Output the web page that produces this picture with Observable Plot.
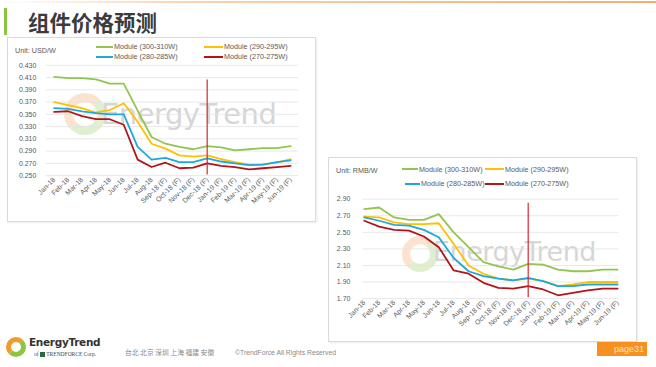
<!DOCTYPE html>
<html><head><meta charset="utf-8">
<script src="https://cdn.jsdelivr.net/npm/d3@7"></script>
<script src="https://cdn.jsdelivr.net/npm/@observablehq/plot@0.6"></script>
<style>
body{margin:0;width:656px;height:367px;background:#fff;position:relative;overflow:hidden;font-family:"Liberation Sans",Arial,sans-serif;}
.abs{position:absolute;}
.topline{left:0;top:1px;width:656px;height:2px;background:linear-gradient(90deg,rgba(247,178,122,0) 0%,rgba(247,178,122,0.6) 30%,#f6ad72 100%);}
.gbar{left:4px;top:8px;width:3px;height:27px;background:#8cc63f;}
.title{left:28px;top:7px;font-family:"Noto Sans CJK SC",sans-serif;font-weight:700;font-size:21.5px;color:#3b3b3b;line-height:30px;white-space:nowrap;}
.box{border:1px solid #dadada;box-shadow:1px 1px 2px rgba(0,0,0,0.08);background:#fff;box-sizing:border-box;}
.lg{font-size:7.2px;color:#595959;white-space:nowrap;line-height:9px;}
.sw{height:2px;}
.wm{font-family:"DejaVu Sans",sans-serif;color:#d6d6d6;white-space:nowrap;letter-spacing:-0.5px;}
.ring{border-radius:50%;box-sizing:border-box;}
.foot{font-size:6.8px;color:#8a8a8a;white-space:nowrap;line-height:9px;}
</style></head><body>
<div class="abs topline"></div>
<div class="abs gbar"></div>
<div class="abs title">组件价格预测</div>
<div id="c1" class="abs box" style="left:7px;top:37px;width:309px;height:185px;"></div>
<div id="c2" class="abs box" style="left:328px;top:157px;width:309px;height:185px;"></div>
<div id="overlay"></div>
<script>
// ---- data ----
const months = ["Jan-18","Feb-18","Mar-18","Apr-18","May-18","Jun-18","Jul-18","Aug-18","Sep-18 (F)","Oct-18 (F)","Nov-18 (F)","Dec-18 (F)","Jan-19 (F)","Feb-19 (F)","Mar-19 (F)","Apr-19 (F)","May-19 (F)","Jun-19 (F)"];
const seriesNames = ["Module (300-310W)","Module (290-295W)","Module (280-285W)","Module (270-275W)"];
const seriesColors = ["#92c550","#ffc000","#1fa8dc","#b3131b"];

const usd300 = [0.411,0.409,0.409,0.407,0.400,0.400,0.356,0.313,0.302,0.297,0.293,0.298,0.296,0.291,0.293,0.295,0.295,0.298];
const usd290 = [0.370,0.365,0.360,0.353,0.357,0.368,0.338,0.302,0.294,0.283,0.281,0.283,0.277,0.272,0.268,0.268,0.271,0.277];
const usd280 = [0.360,0.359,0.355,0.352,0.350,0.350,0.297,0.276,0.279,0.272,0.272,0.278,0.273,0.270,0.267,0.268,0.272,0.275];
const usd270 = [0.354,0.355,0.347,0.342,0.342,0.333,0.276,0.264,0.271,0.262,0.263,0.270,0.266,0.264,0.260,0.262,0.264,0.266];

const rmb300 = [2.78,2.80,2.68,2.65,2.65,2.72,2.50,2.32,2.14,2.09,2.05,2.12,2.11,2.05,2.03,2.03,2.05,2.05];
const rmb290 = [2.69,2.68,2.62,2.60,2.60,2.61,2.36,2.10,2.00,1.94,1.92,1.94,1.91,1.85,1.87,1.90,1.90,1.90];
const rmb280 = [2.68,2.64,2.59,2.58,2.53,2.44,2.19,2.03,1.97,1.94,1.92,1.95,1.91,1.85,1.85,1.87,1.87,1.87];
const rmb270 = [2.64,2.57,2.53,2.52,2.45,2.32,2.04,2.00,1.89,1.83,1.82,1.85,1.81,1.74,1.77,1.80,1.82,1.82];

const usdTicks = [0.25,0.27,0.29,0.31,0.33,0.35,0.37,0.39,0.41,0.43];
const rmbTicks = [1.70,1.90,2.10,2.30,2.50,2.70,2.90];
const markerMonth = "Dec-18 (F)";
const usdMarker = [0.251,0.406];
const rmbMarker = [1.71,2.85];
const usdUnit = "Unit: USD/W";
const rmbUnit = "Unit: RMB/W";
const watermark = "EnergyTrend";
const footerCities = "台北 北京 深圳 上海 福建 安徽";
const footerCopy = "©TrendForce All Rights Reserved";
const pageLabel = "page31";

// ---- helpers ----
function rows(arrs){
  const out=[];
  arrs.forEach((a,si)=>a.forEach((v,i)=>out.push({month:months[i],value:v,series:seriesNames[si]})));
  return out;
}
function chart(opts){
  const data = rows(opts.arrs);
  return Plot.plot({
    width:309,height:185,
    marginLeft:opts.ml,marginRight:opts.mr,marginTop:opts.mt,marginBottom:opts.mb,
    style:{background:"transparent",fontFamily:"Liberation Sans, Arial, sans-serif",fontSize:"7px",color:"#595959"},
    x:{type:"point",domain:months,padding:0},
    y:{domain:opts.domain},
    color:{domain:seriesNames,range:seriesColors},
    marks:[
      Plot.gridY(opts.ticks,{stroke:"#e2e2e2",strokeOpacity:1,strokeWidth:0.8}),
      Plot.axisY(opts.ticks,{tickFormat:d3.format(opts.fmt),tickSize:0,tickPadding:opts.tp,label:null,fill:"#595959"}),
      Plot.axisX({tickRotate:-45,tickSize:0,tickPadding:3,label:null,fill:"#595959"}),
      Plot.lineY(data,{x:"month",y:"value",stroke:"series",strokeWidth:1.8}),
      Plot.ruleX([markerMonth],{y1:opts.marker[0],y2:opts.marker[1],stroke:"#d8282b",strokeWidth:1.2})
    ]
  });
}

const ov = document.getElementById("overlay");
function add(html){ov.insertAdjacentHTML("beforeend",html);}
function legend(unitX,unitY,unit,positions){
  add(`<div class="abs lg" style="left:${unitX}px;top:${unitY-4.5}px">${unit}</div>`);
  positions.forEach((p,i)=>{
    add(`<div class="abs sw" style="left:${p[0]}px;top:${p[2]-1}px;width:${p[1]-p[0]}px;background:${seriesColors[i]}"></div>`);
    add(`<div class="abs lg" style="left:${p[1]+1}px;top:${p[2]-4.5}px">${seriesNames[i]}</div>`);
  });
}

// watermarks (behind charts' lines)
const c1 = document.getElementById("c1"), c2 = document.getElementById("c2");
const w1 = document.createElement("div"); c1.appendChild(w1);
const w2 = document.createElement("div"); c2.appendChild(w2);
w1.style.cssText="position:absolute;left:0;top:0;";
w2.style.cssText="position:absolute;left:0;top:0;";
w1.innerHTML=`<div class="abs ring" style="left:56px;top:55px;width:42px;height:42px;border:9px solid rgba(246,170,110,0.33);border-right-color:rgba(160,205,110,0.33);border-bottom-color:rgba(160,205,110,0.33);"></div><div class="abs wm" style="left:93px;top:62px;font-size:29px;line-height:29px">${watermark}</div>`;
w2.innerHTML=`<div class="abs ring" style="left:73px;top:78px;width:36px;height:36px;border:8px solid rgba(246,170,110,0.33);border-right-color:rgba(160,205,110,0.33);border-bottom-color:rgba(160,205,110,0.33);"></div><div class="abs wm" style="left:104px;top:80px;font-size:27px;line-height:27px">${watermark}</div>`;

const p1 = chart({arrs:[usd300,usd290,usd280,usd270],domain:[0.25,0.43],ticks:usdTicks,fmt:".3f",tp:10,ml:39,mr:16,mt:28,mb:46,marker:usdMarker});
p1.style.position="absolute";p1.style.left="-1px";p1.style.top="-1px";
c1.appendChild(p1);
const p2 = chart({arrs:[rmb300,rmb290,rmb280,rmb270],domain:[1.70,2.90],ticks:rmbTicks,fmt:".2f",tp:13,ml:35,mr:17,mt:42,mb:43,marker:rmbMarker});
p2.style.position="absolute";p2.style.left="-1px";p2.style.top="-1px";
c2.appendChild(p2);

legend(15,50,usdUnit,[[96,113,46.7],[204,223,46.7],[96,113,56.7],[204,223,56.7]]);
legend(336,170,rmbUnit,[[402,418,169],[485,504,169],[405,420,183.7],[485,504,183.7]]);

// footer
add(`<div class="abs ring" style="left:6px;top:337px;width:20px;height:20px;border:5px solid #f39a2a;border-right-color:#8cc63f;border-bottom-color:#8cc63f;"></div>`);
add(`<div class="abs" style="left:29px;top:336px;font-family:'DejaVu Sans',sans-serif;font-weight:700;font-size:10.5px;color:#333;white-space:nowrap;letter-spacing:-0.3px">EnergyTrend</div>`);
add(`<div class="abs" style="left:34px;top:351px;font-family:'Liberation Serif',serif;font-size:5.5px;color:#444;white-space:nowrap">of <span style="display:inline-block;width:5px;height:5px;background:#2a6a3a;vertical-align:-1px"></span> TRENDFORCE Corp.</div>`);
add(`<div class="abs foot" style="left:125px;top:347.5px;font-family:'Noto Sans CJK SC',sans-serif">${footerCities}</div>`);
add(`<div class="abs foot" style="left:235px;top:347.5px">${footerCopy}</div>`);
add(`<div class="abs" style="left:597px;top:342px;width:50px;height:14px;background:#f7901e;color:#fde3c4;font-size:9px;line-height:14px;text-align:right;padding-right:3px;box-sizing:border-box">${pageLabel}</div>`);
</script>
</body></html>
